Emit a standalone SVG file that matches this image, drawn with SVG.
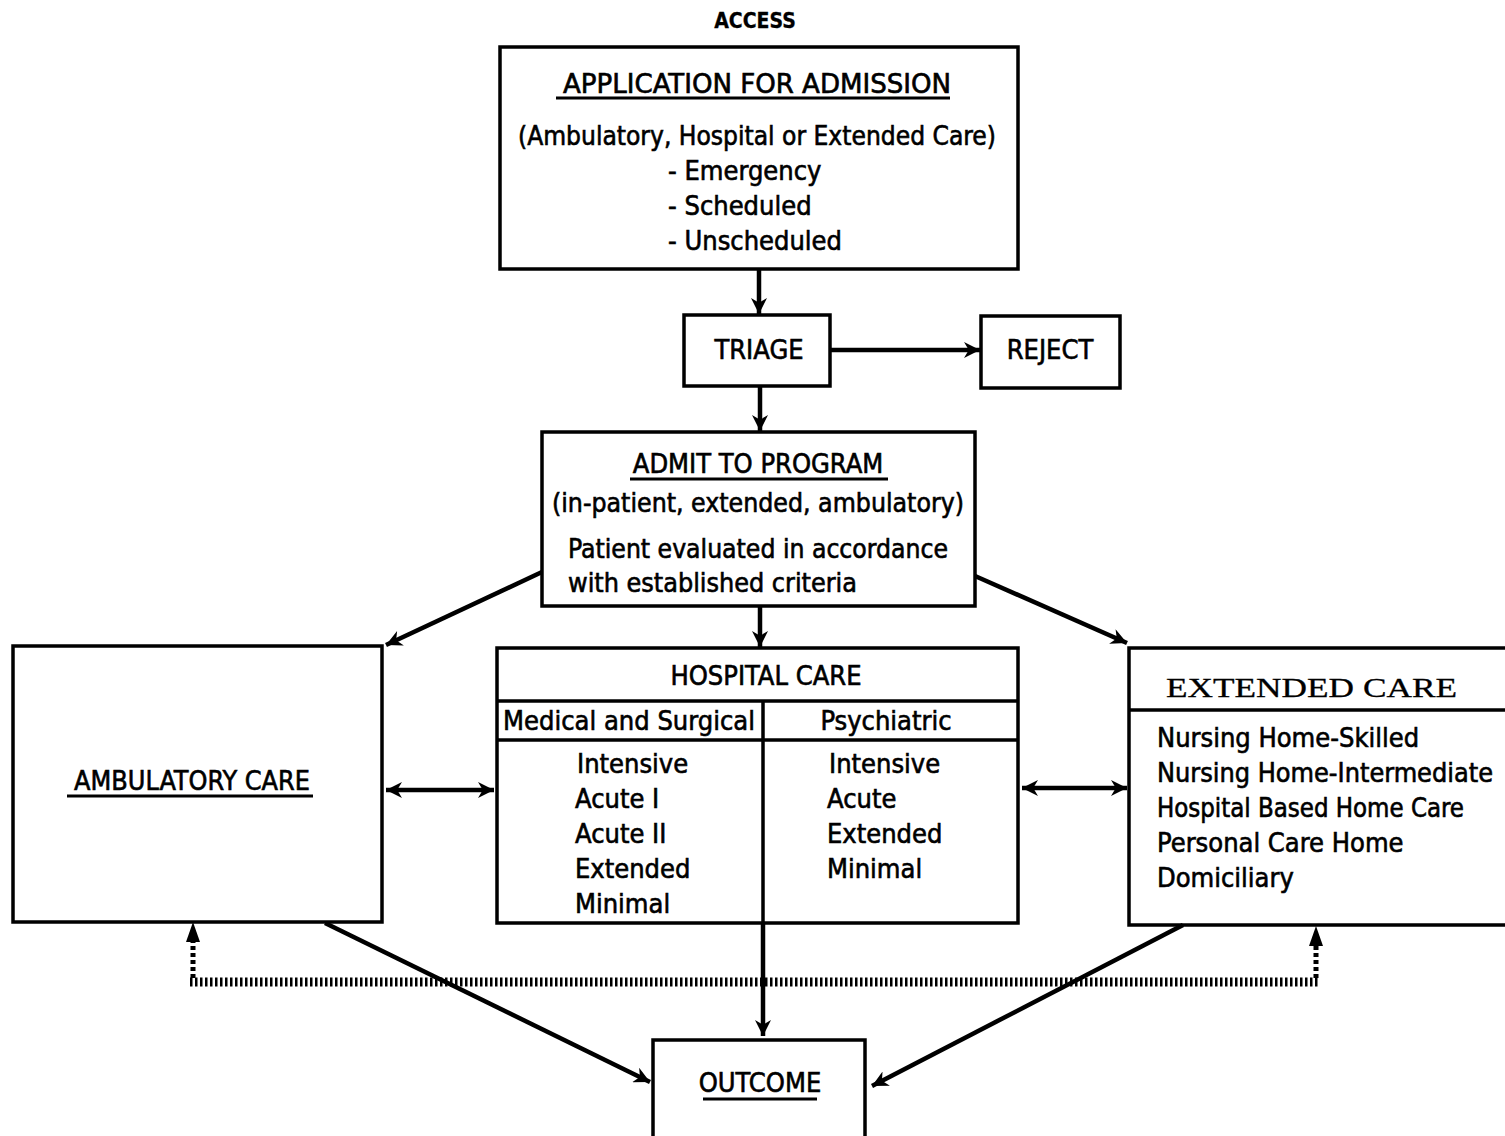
<svg xmlns="http://www.w3.org/2000/svg" width="1505" height="1136" viewBox="0 0 1505 1136">
<defs>
<style>
.box{fill:#fff;stroke:#000;stroke-width:3.5}
.ln{fill:none;stroke:#000;stroke-width:3.5}
.t{font-family:"Liberation Sans Narrow","DejaVu Sans Condensed","Liberation Sans",sans-serif;font-size:27px;fill:#000;stroke:#000;stroke-width:0.6}
.c{text-anchor:middle}
.serif{font-family:"Liberation Serif","DejaVu Serif",serif;font-size:28px;stroke-width:0.3}
.ul{stroke:#000;stroke-width:3}
.arr{fill:none;stroke:#000;stroke-width:4.5;marker-end:url(#ah)}
.dbl{fill:none;stroke:#000;stroke-width:4.5;marker-end:url(#ah);marker-start:url(#as)}
.dot{fill:none;stroke:#000;stroke-width:9;stroke-dasharray:2.5 2.5}
.vdot{fill:none;stroke:#000;stroke-width:5;stroke-dasharray:4 3}
</style>
<marker id="ah" viewBox="0 0 10 10" refX="10" refY="5" markerWidth="22" markerHeight="16" markerUnits="userSpaceOnUse" orient="auto"><path d="M0,0 L10,5 L0,10 L3,5 Z" fill="#000"/></marker>
<marker id="as" viewBox="0 0 10 10" refX="0" refY="5" markerWidth="22" markerHeight="16" markerUnits="userSpaceOnUse" orient="auto"><path d="M10,0 L0,5 L10,10 L7,5 Z" fill="#000"/></marker>
</defs>
<rect width="1505" height="1136" fill="#fff"/>

<text class="t c" x="755" y="28" style="font-weight:bold;font-size:21px;stroke-width:0.3">ACCESS</text>

<g id="application">
<rect class="box" x="500" y="47" width="518" height="222"/>
<text class="t c" x="757" y="93" textLength="388" lengthAdjust="spacingAndGlyphs">APPLICATION FOR ADMISSION</text>
<line class="ul" x1="556" y1="98" x2="950" y2="98"/>
<text class="t c" x="757" y="145" textLength="478" lengthAdjust="spacingAndGlyphs">(Ambulatory, Hospital or Extended Care)</text>
<text class="t" x="668" y="180">- Emergency</text>
<text class="t" x="668" y="215">- Scheduled</text>
<text class="t" x="668" y="250">- Unscheduled</text>
</g>

<g id="triage">
<rect class="box" x="684" y="315" width="146" height="71"/>
<text class="t c" x="759" y="359">TRIAGE</text>
</g>

<g id="reject">
<rect class="box" x="981" y="316" width="139" height="72"/>
<text class="t c" x="1050" y="359">REJECT</text>
</g>

<g id="admit">
<rect class="box" x="542" y="432" width="433" height="174"/>
<text class="t c" x="758" y="473">ADMIT TO PROGRAM</text>
<line class="ul" x1="630" y1="479" x2="888" y2="479"/>
<text class="t c" x="758" y="512" textLength="412" lengthAdjust="spacingAndGlyphs">(in-patient, extended, ambulatory)</text>
<text class="t" x="568" y="558" textLength="380" lengthAdjust="spacingAndGlyphs">Patient evaluated in accordance</text>
<text class="t" x="568" y="592" textLength="289" lengthAdjust="spacingAndGlyphs">with established criteria</text>
</g>

<g id="ambulatory">
<rect class="box" x="13" y="646" width="369" height="276"/>
<text class="t c" x="192" y="790" textLength="236" lengthAdjust="spacingAndGlyphs">AMBULATORY CARE</text>
<line class="ul" x1="67" y1="796" x2="313" y2="796"/>
</g>

<g id="hospital">
<rect class="box" x="497" y="648" width="521" height="275"/>
<line class="ln" x1="497" y1="701" x2="1018" y2="701"/>
<line class="ln" x1="497" y1="740" x2="1018" y2="740"/>
<line class="ln" x1="763" y1="701" x2="763" y2="923"/>
<text class="t c" x="766" y="685">HOSPITAL CARE</text>
<text class="t" x="503" y="730" textLength="252" lengthAdjust="spacingAndGlyphs">Medical and Surgical</text>
<text class="t c" x="886" y="730">Psychiatric</text>
<text class="t" x="577" y="773">Intensive</text>
<text class="t" x="575" y="808">Acute I</text>
<text class="t" x="575" y="843">Acute II</text>
<text class="t" x="575" y="878">Extended</text>
<text class="t" x="575" y="913">Minimal</text>
<text class="t" x="829" y="773">Intensive</text>
<text class="t" x="827" y="808">Acute</text>
<text class="t" x="827" y="843">Extended</text>
<text class="t" x="827" y="878">Minimal</text>
</g>

<g id="extended">
<path class="ln" d="M1508,648 H1129 V925 H1508"/>
<line class="ln" x1="1129" y1="710" x2="1508" y2="710"/>
<text class="t serif" x="1166" y="697" textLength="291" lengthAdjust="spacingAndGlyphs">EXTENDED CARE</text>
<text class="t" x="1157" y="747">Nursing Home-Skilled</text>
<text class="t" x="1157" y="782" textLength="336" lengthAdjust="spacingAndGlyphs">Nursing Home-Intermediate</text>
<text class="t" x="1157" y="817" textLength="307" lengthAdjust="spacingAndGlyphs">Hospital Based Home Care</text>
<text class="t" x="1157" y="852">Personal Care Home</text>
<text class="t" x="1157" y="887">Domiciliary</text>
</g>

<g id="outcome">
<rect class="box" x="653" y="1040" width="212" height="100"/>
<text class="t c" x="760" y="1092">OUTCOME</text>
<line class="ul" x1="703" y1="1099" x2="817" y2="1099"/>
</g>

<g id="connectors">
<line class="arr" x1="759" y1="269" x2="759" y2="314"/>
<line class="arr" x1="830" y1="350" x2="980" y2="350"/>
<line class="arr" x1="760" y1="386" x2="760" y2="431"/>
<line class="arr" x1="542" y1="572" x2="386" y2="645"/>
<line class="arr" x1="760" y1="606" x2="760" y2="647"/>
<line class="arr" x1="975" y1="576" x2="1127" y2="643"/>
<line class="dbl" x1="386" y1="790" x2="494" y2="790"/>
<line class="dbl" x1="1022" y1="788" x2="1127" y2="788"/>
<line class="arr" x1="325" y1="923" x2="650" y2="1082"/>
<line class="arr" x1="1183" y1="925" x2="872" y2="1086"/>
<line class="arr" x1="763" y1="923" x2="763" y2="1036"/>
<line class="dot" x1="190" y1="982" x2="1318" y2="982"/>
<line class="vdot" x1="193" y1="978" x2="193" y2="938"/>
<path d="M186,942 L193,922 L200,942 Z" fill="#000"/>
<line class="vdot" x1="1316" y1="978" x2="1316" y2="942"/>
<path d="M1309,946 L1316,926 L1323,946 Z" fill="#000"/>
</g>
</svg>
